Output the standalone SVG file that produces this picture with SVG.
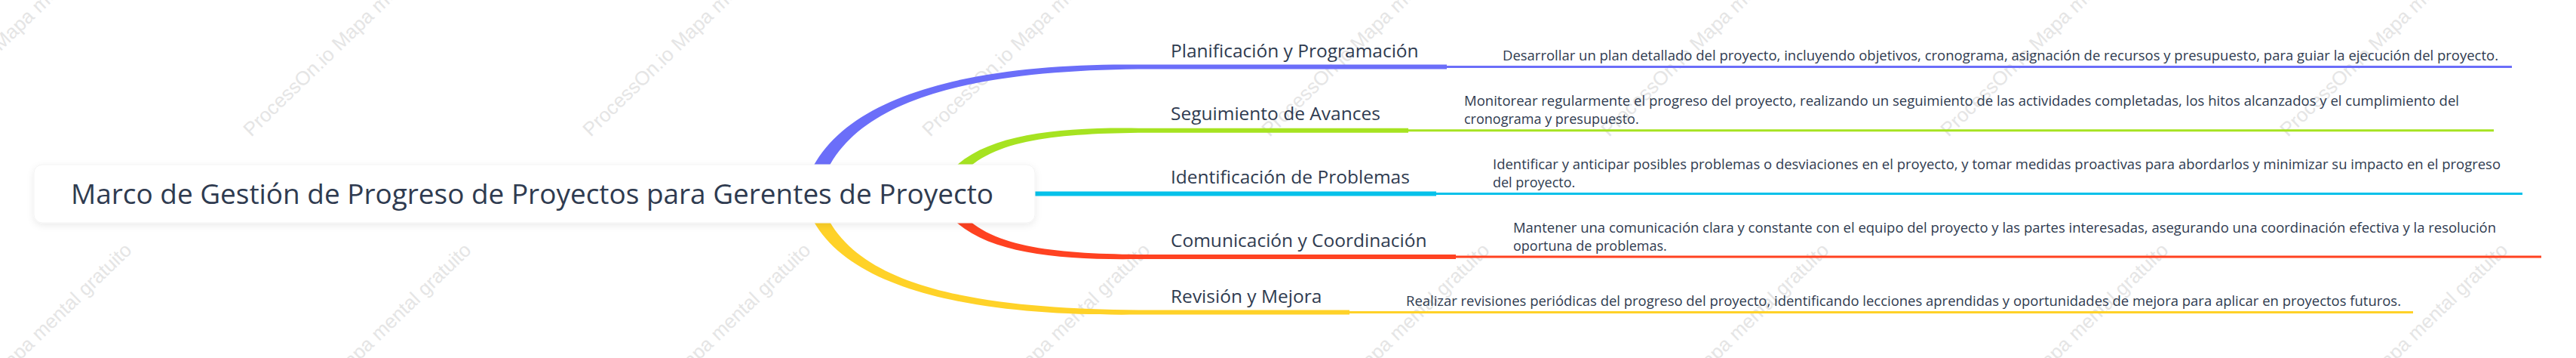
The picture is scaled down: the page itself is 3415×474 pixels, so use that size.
<svg xmlns="http://www.w3.org/2000/svg" width="3415" height="474" viewBox="0 0 3415 474">
<defs>
<style>
.wm{font-family:"Liberation Sans",Arial,sans-serif;font-size:26px;fill:#e5e5e5}
.title{font-family:"Open Sans","Noto Sans",sans-serif;font-size:37px;fill:#2f3b50}
.lbl{font-family:"Open Sans","Noto Sans",sans-serif;font-size:24.5px;fill:#2f3b50}
.desc{font-family:"Open Sans","Noto Sans",sans-serif;font-size:18px;fill:#2f3b50}
.thin{stroke-width:3;fill:none}
</style>
<filter id="sh" x="-5%" y="-40%" width="110%" height="180%">
<feDropShadow dx="0" dy="3" stdDeviation="5" flood-color="#000" flood-opacity="0.08"/>
</filter>
</defs>
<rect width="3415" height="474" fill="#ffffff"/>
<g id="watermark">
<text class="wm" transform="translate(-117,182) rotate(-44)">ProcessOn.io Mapa mental gratuito</text>
<text class="wm" transform="translate(333,182) rotate(-44)">ProcessOn.io Mapa mental gratuito</text>
<text class="wm" transform="translate(783,182) rotate(-44)">ProcessOn.io Mapa mental gratuito</text>
<text class="wm" transform="translate(1233,182) rotate(-44)">ProcessOn.io Mapa mental gratuito</text>
<text class="wm" transform="translate(1683,182) rotate(-44)">ProcessOn.io Mapa mental gratuito</text>
<text class="wm" transform="translate(2133,182) rotate(-44)">ProcessOn.io Mapa mental gratuito</text>
<text class="wm" transform="translate(2583,182) rotate(-44)">ProcessOn.io Mapa mental gratuito</text>
<text class="wm" transform="translate(3033,182) rotate(-44)">ProcessOn.io Mapa mental gratuito</text>
<text class="wm" transform="translate(-117,616) rotate(-44)">ProcessOn.io Mapa mental gratuito</text>
<text class="wm" transform="translate(333,616) rotate(-44)">ProcessOn.io Mapa mental gratuito</text>
<text class="wm" transform="translate(783,616) rotate(-44)">ProcessOn.io Mapa mental gratuito</text>
<text class="wm" transform="translate(1233,616) rotate(-44)">ProcessOn.io Mapa mental gratuito</text>
<text class="wm" transform="translate(1683,616) rotate(-44)">ProcessOn.io Mapa mental gratuito</text>
<text class="wm" transform="translate(2133,616) rotate(-44)">ProcessOn.io Mapa mental gratuito</text>
<text class="wm" transform="translate(2583,616) rotate(-44)">ProcessOn.io Mapa mental gratuito</text>
<text class="wm" transform="translate(3033,616) rotate(-44)">ProcessOn.io Mapa mental gratuito</text>
</g>
<g id="connectors">
<path fill="#6b6ef9" d="M1065.2,254.8 C1096.2,123 1300,83 1509,85.5 L1918,85.5 L1918,91.5 L1509,91.5 C1300,94 1113.8,127 1084.8,259.2 Z"/>
<path fill="#a6e321" d="M1242.6,253.9 C1273.5,182.3 1380,168 1509,169.7 L1867,169.7 L1867,175.7 L1509,175.7 C1380,177.5 1286.5,187.7 1257.4,260.1 Z"/>
<path fill="#05c1ea" d="M1300,253.5 L1904,253.5 L1904,259.5 L1300,259.5 Z"/>
<path fill="#ff4221" d="M1242.6,260.1 C1273.5,330.7 1380,344.8 1509,343 L1930,343 L1930,337 L1509,337 C1380,335.2 1286.5,325.3 1257.4,253.9 Z"/>
<path fill="#ffd228" d="M1065.3,259.3 C1096.2,387 1300,419 1509,416.5 L1789,416.5 L1789,410.5 L1509,410.5 C1300,408 1113.8,383 1084.7,254.7 Z"/>
</g>
<g id="root">
<rect x="45" y="218" width="1327" height="77" rx="11" ry="11" fill="#ffffff" stroke="#f3f3f3" stroke-width="1" filter="url(#sh)"/>
<text class="title" x="94" y="270" textLength="1223" lengthAdjust="spacingAndGlyphs">Marco de Gestión de Progreso de Proyectos para Gerentes de Proyecto</text>
</g>
<g id="node-planificacion">
<text class="lbl" x="1552" y="75.5">Planificación y Programación</text>
<line class="thin" x1="1918" y1="88.5" x2="3330" y2="88.5" stroke="#6b6ef9"/>
<text class="desc" x="1992" y="79.5" textLength="1320" lengthAdjust="spacingAndGlyphs">Desarrollar un plan detallado del proyecto, incluyendo objetivos, cronograma, asignación de recursos y presupuesto, para guiar la ejecución del proyecto.</text>
</g>
<g id="node-seguimiento">
<text class="lbl" x="1552" y="159">Seguimiento de Avances</text>
<line class="thin" x1="1867" y1="172.7" x2="3306" y2="172.7" stroke="#a6e321"/>
<text class="desc" x="1941" y="140" textLength="1319" lengthAdjust="spacingAndGlyphs">Monitorear regularmente el progreso del proyecto, realizando un seguimiento de las actividades completadas, los hitos alcanzados y el cumplimiento del</text>
<text class="desc" x="1941" y="163.5">cronograma y presupuesto.</text>
</g>
<g id="node-identificacion">
<text class="lbl" x="1552" y="243">Identificación de Problemas</text>
<line class="thin" x1="1904" y1="256.5" x2="3344" y2="256.5" stroke="#05c1ea"/>
<text class="desc" x="1979" y="223.5" textLength="1336" lengthAdjust="spacingAndGlyphs">Identificar y anticipar posibles problemas o desviaciones en el proyecto, y tomar medidas proactivas para abordarlos y minimizar su impacto en el progreso</text>
<text class="desc" x="1979" y="247.5">del proyecto.</text>
</g>
<g id="node-comunicacion">
<text class="lbl" x="1552" y="327">Comunicación y Coordinación</text>
<line class="thin" x1="1930" y1="340" x2="3369" y2="340" stroke="#ff4221"/>
<text class="desc" x="2006" y="308" textLength="1303" lengthAdjust="spacingAndGlyphs">Mantener una comunicación clara y constante con el equipo del proyecto y las partes interesadas, asegurando una coordinación efectiva y la resolución</text>
<text class="desc" x="2006" y="331.5">oportuna de problemas.</text>
</g>
<g id="node-revision">
<text class="lbl" x="1552" y="400.5">Revisión y Mejora</text>
<line class="thin" x1="1789" y1="413.5" x2="3199" y2="413.5" stroke="#ffd228"/>
<text class="desc" x="1864" y="405" textLength="1319" lengthAdjust="spacingAndGlyphs">Realizar revisiones periódicas del progreso del proyecto, identificando lecciones aprendidas y oportunidades de mejora para aplicar en proyectos futuros.</text>
</g>
</svg>
